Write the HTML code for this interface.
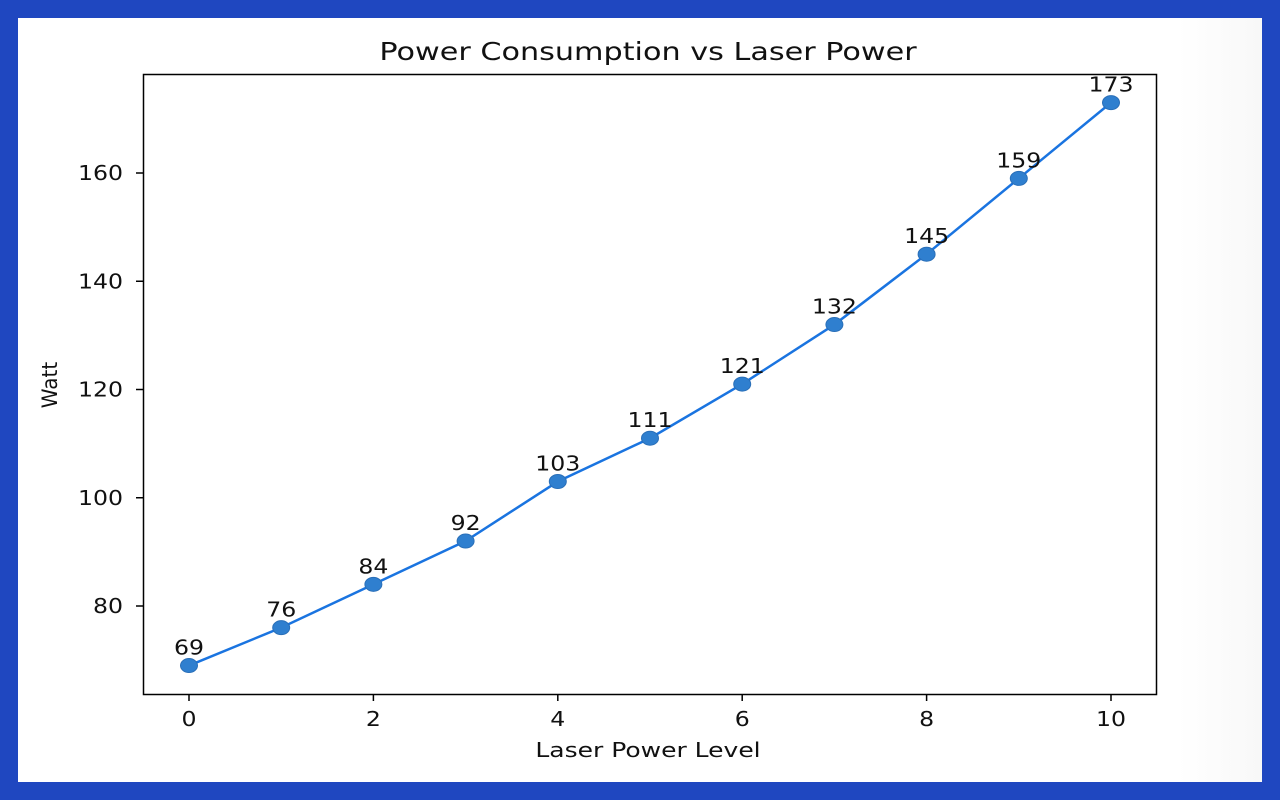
<!DOCTYPE html>
<html><head><meta charset="utf-8"><style>
html,body{margin:0;padding:0;width:1280px;height:800px;background:#1f47c0;overflow:hidden}
#card{position:absolute;left:18px;top:18px;width:1244px;height:764px;background:linear-gradient(to right,#fff 0,#fff 1160px,#f8f8f8 1244px)}
svg{position:absolute;left:0;top:0}
text{font-family:"DejaVu Sans","Liberation Sans",sans-serif;fill:#111}
</style></head><body>
<div id="card"></div>
<svg width="1280" height="800" id="chart">
<text transform="translate(648,60) scale(1.21,1)" font-size="25" text-anchor="middle">Power Consumption vs Laser Power</text>
<rect x="143.5" y="74.5" width="1013" height="620" fill="none" stroke="#000" stroke-width="1.5"/>
<g id="xt"></g><g id="yt"></g>
<path id="ln" fill="none" stroke="#1a74e0" stroke-width="2.5"/>
<g id="pts"></g>
<text transform="translate(648,757) scale(1.25,1)" font-size="20" text-anchor="middle">Laser Power Level</text>
<text transform="translate(57,385) rotate(-90) scale(1,1.05)" font-size="20" text-anchor="middle">Watt</text>
</svg>
<script>
const levels=[0,1,2,3,4,5,6,7,8,9,10];
const watts=[69,76,84,92,103,111,121,132,145,159,173];
const xTicks=[0,2,4,6,8,10];
const yTicks=[80,100,120,140,160];
const NS="http://www.w3.org/2000/svg";
const X=v=>189+v*92.2;
const Y=v=>606-(v-80)*5.4125;
const S=1.18;
function mk(t,a,p){const e=document.createElementNS(NS,t);for(const k in a)e.setAttribute(k,a[k]);p.appendChild(e);return e;}
const xt=document.getElementById('xt'),yt=document.getElementById('yt'),pts=document.getElementById('pts');
xTicks.forEach(v=>{
 const l=mk('line',{x1:X(v),x2:X(v),y1:694,y2:701,stroke:'#000','stroke-width':1.5},xt);
 
 
 const t=mk('text',{transform:`translate(${X(v)},726) scale(${S},1)`,'font-size':20,'text-anchor':'middle'},xt);t.textContent=v;
 
 
});
yTicks.forEach(v=>{
 const l=mk('line',{x1:136,x2:143,y1:Y(v),y2:Y(v),stroke:'#000','stroke-width':1.5},yt);
 
 
 const t=mk('text',{transform:`translate(123,${Y(v)+7}) scale(${S},1)`,'font-size':20,'text-anchor':'end'},yt);t.textContent=v;
 
 
});
document.getElementById('ln').setAttribute('d',levels.map((l,i)=>(i?'L':'M')+X(l)+' '+Y(watts[i])).join(' '));
levels.forEach((l,i)=>{
 const c=mk('ellipse',{cx:X(l),cy:Y(watts[i]),rx:8.5,ry:7,fill:'#2f7fcf',stroke:'#2a6fb8','stroke-width':1},pts);
 
 
 const t=mk('text',{transform:`translate(${X(l)},${Y(watts[i])-11}) scale(${S},1)`,'font-size':20,'text-anchor':'middle'},pts);t.textContent=watts[i];
 
 
});
</script>
</body></html>
